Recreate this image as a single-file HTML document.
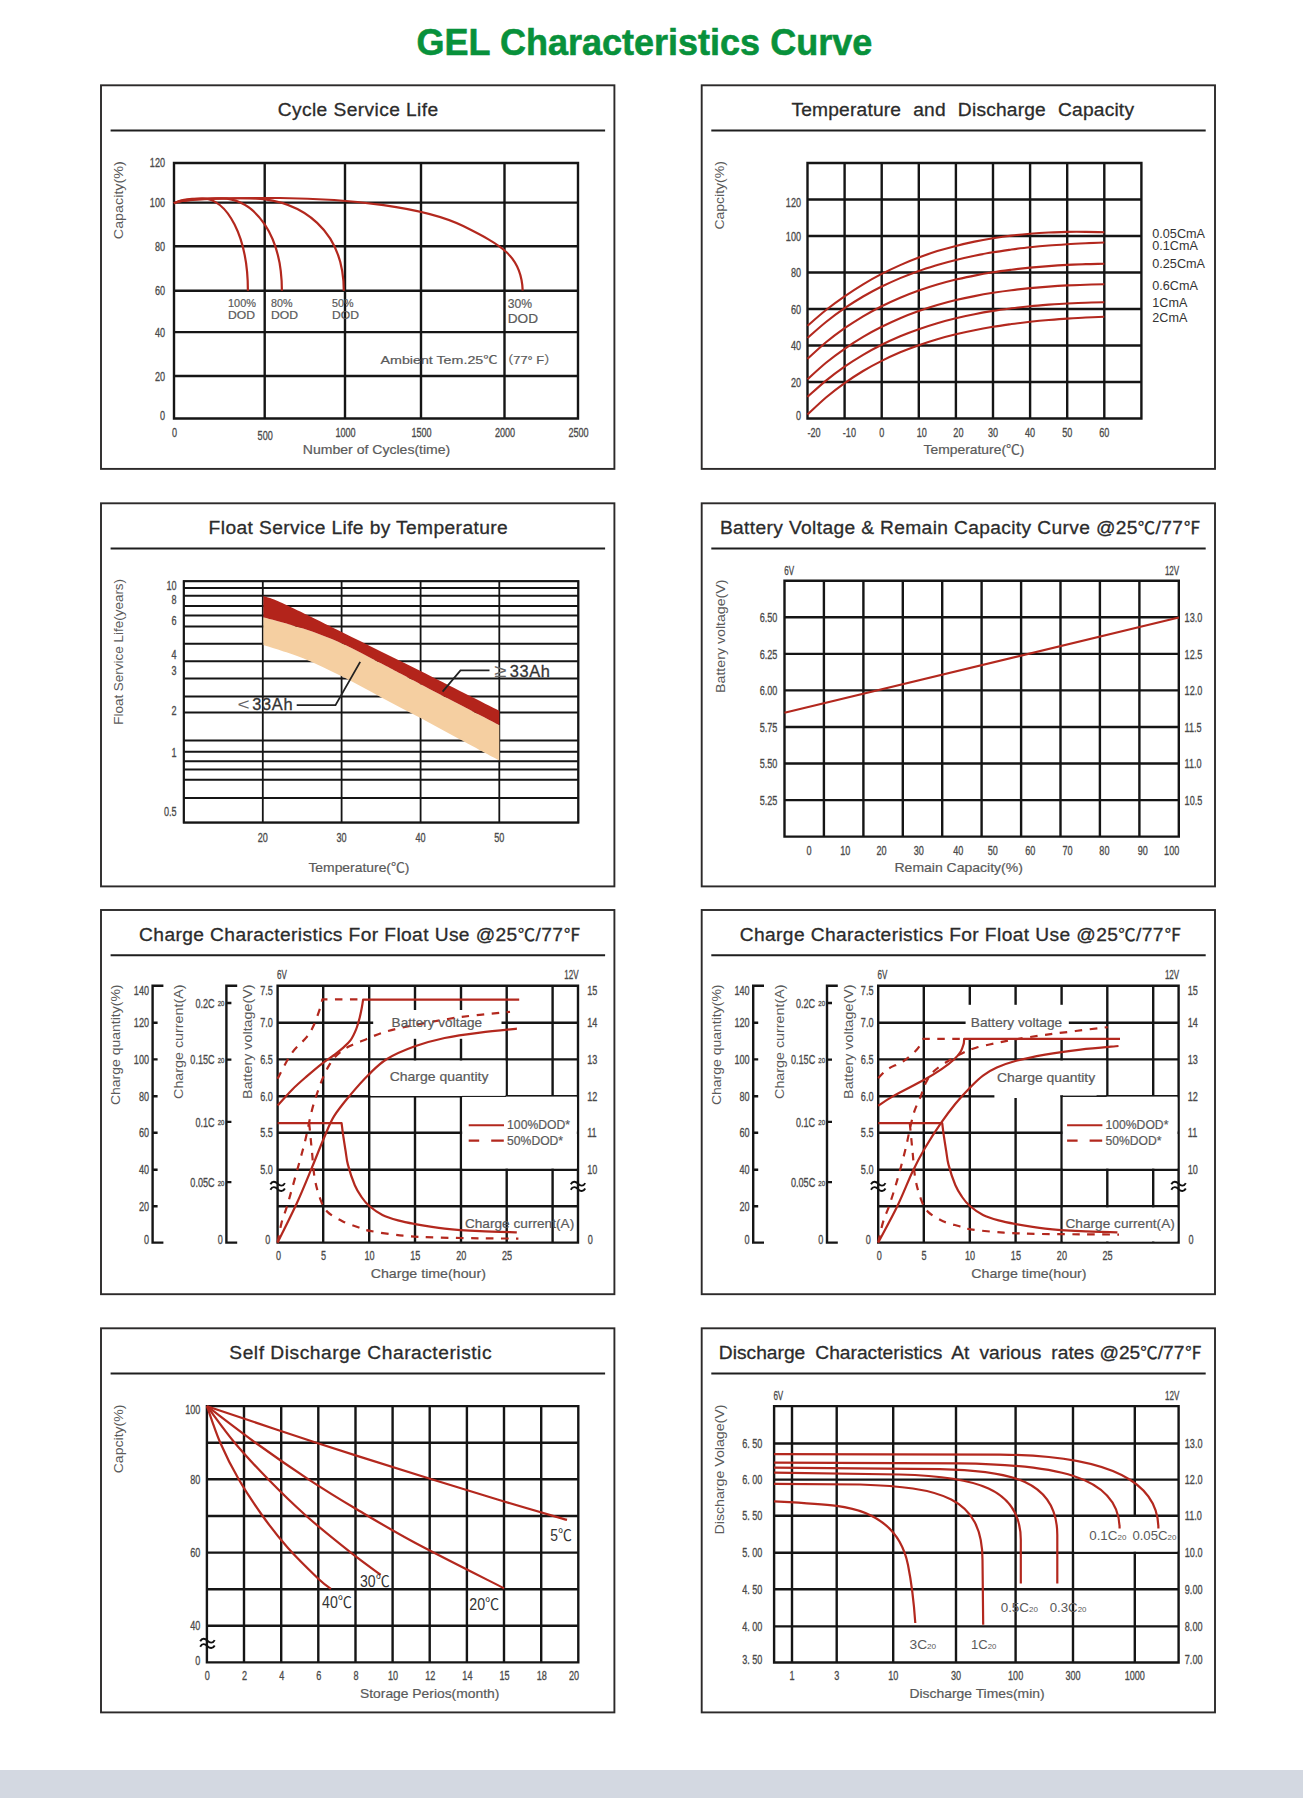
<!DOCTYPE html>
<html lang="en"><head><meta charset="utf-8"><title>GEL Characteristics Curve</title>
<style>
html,body{margin:0;padding:0;background:#fff}
body{width:1303px;height:1798px;overflow:hidden;font-family:"Liberation Sans","Noto Sans CJK SC",sans-serif}
svg{display:block;font-family:"Liberation Sans","Noto Sans CJK SC",sans-serif}
</style></head><body>
<svg width="1303" height="1798" viewBox="0 0 1303 1798">
<rect x="0" y="0" width="1303" height="1798" fill="#fff"/>
<rect x="0" y="1770" width="1303" height="28" fill="#d3d8e1"/>
<text x="416.6" y="55.3" font-size="37.6" font-weight="bold" fill="#08913b" stroke="#08913b" stroke-width="0.6" textLength="455.6" lengthAdjust="spacingAndGlyphs">GEL Characteristics Curve</text>
<rect x="101.0" y="85.3" width="513.4" height="383.6" fill="#fff" stroke="#2c2a2a" stroke-width="1.9"/>
<line x1="110.6" y1="130.6" x2="605.1" y2="130.6" stroke="#1e1e1e" stroke-width="2"/>
<rect x="701.7" y="85.3" width="513.3" height="383.6" fill="#fff" stroke="#2c2a2a" stroke-width="1.9"/>
<line x1="711.3000000000001" y1="130.6" x2="1205.7" y2="130.6" stroke="#1e1e1e" stroke-width="2"/>
<rect x="101.0" y="503.3" width="513.4" height="383.1" fill="#fff" stroke="#2c2a2a" stroke-width="1.9"/>
<line x1="110.6" y1="548.6" x2="605.1" y2="548.6" stroke="#1e1e1e" stroke-width="2"/>
<rect x="701.7" y="503.3" width="513.3" height="383.1" fill="#fff" stroke="#2c2a2a" stroke-width="1.9"/>
<line x1="711.3000000000001" y1="548.6" x2="1205.7" y2="548.6" stroke="#1e1e1e" stroke-width="2"/>
<rect x="101.0" y="910.0" width="513.4" height="384.2" fill="#fff" stroke="#2c2a2a" stroke-width="1.9"/>
<line x1="110.6" y1="955.3" x2="605.1" y2="955.3" stroke="#1e1e1e" stroke-width="2"/>
<rect x="701.7" y="910.0" width="513.3" height="384.2" fill="#fff" stroke="#2c2a2a" stroke-width="1.9"/>
<line x1="711.3000000000001" y1="955.3" x2="1205.7" y2="955.3" stroke="#1e1e1e" stroke-width="2"/>
<rect x="101.0" y="1328.3" width="513.4" height="384.1" fill="#fff" stroke="#2c2a2a" stroke-width="1.9"/>
<line x1="110.6" y1="1373.6" x2="605.1" y2="1373.6" stroke="#1e1e1e" stroke-width="2"/>
<rect x="701.7" y="1328.3" width="513.3" height="384.1" fill="#fff" stroke="#2c2a2a" stroke-width="1.9"/>
<line x1="711.3000000000001" y1="1373.6" x2="1205.7" y2="1373.6" stroke="#1e1e1e" stroke-width="2"/>
<text x="277.7" y="115.8" font-size="19.2" fill="#2b2b2b" stroke="#2b2b2b" stroke-width="0.3" textLength="160.4" xml:space="preserve">Cycle Service Life</text>
<path d="M174.0,161.8V419.7M264.7,161.8V419.7M345.0,161.8V419.7M421.0,161.8V419.7M504.5,161.8V419.7M578.0,161.8V419.7M172.8,163.0H579.2M172.8,202.6H579.2M172.8,246.3H579.2M172.8,290.8H579.2M172.8,332.1H579.2M172.8,376.0H579.2M172.8,418.5H579.2" stroke="#151515" stroke-width="2.4" fill="none"/>
<text transform="translate(165.0,166.7) scale(0.7,1)" font-size="13.0" text-anchor="end" fill="#4a4a4a" stroke="#4a4a4a" stroke-width="0.28" vector-effect="non-scaling-stroke">120</text>
<text transform="translate(165.0,207.2) scale(0.7,1)" font-size="13.0" text-anchor="end" fill="#4a4a4a" stroke="#4a4a4a" stroke-width="0.28" vector-effect="non-scaling-stroke">100</text>
<text transform="translate(165.0,250.9) scale(0.7,1)" font-size="13.0" text-anchor="end" fill="#4a4a4a" stroke="#4a4a4a" stroke-width="0.28" vector-effect="non-scaling-stroke">80</text>
<text transform="translate(165.0,295.4) scale(0.7,1)" font-size="13.0" text-anchor="end" fill="#4a4a4a" stroke="#4a4a4a" stroke-width="0.28" vector-effect="non-scaling-stroke">60</text>
<text transform="translate(165.0,336.7) scale(0.7,1)" font-size="13.0" text-anchor="end" fill="#4a4a4a" stroke="#4a4a4a" stroke-width="0.28" vector-effect="non-scaling-stroke">40</text>
<text transform="translate(165.0,380.6) scale(0.7,1)" font-size="13.0" text-anchor="end" fill="#4a4a4a" stroke="#4a4a4a" stroke-width="0.28" vector-effect="non-scaling-stroke">20</text>
<text transform="translate(165.0,419.7) scale(0.7,1)" font-size="13.0" text-anchor="end" fill="#4a4a4a" stroke="#4a4a4a" stroke-width="0.28" vector-effect="non-scaling-stroke">0</text>
<text transform="translate(174.5,436.8) scale(0.7,1)" font-size="13.0" text-anchor="middle" fill="#4a4a4a" stroke="#4a4a4a" stroke-width="0.28" vector-effect="non-scaling-stroke">0</text>
<text transform="translate(265.2,440.3) scale(0.7,1)" font-size="13.0" text-anchor="middle" fill="#4a4a4a" stroke="#4a4a4a" stroke-width="0.28" vector-effect="non-scaling-stroke">500</text>
<text transform="translate(345.5,436.8) scale(0.7,1)" font-size="13.0" text-anchor="middle" fill="#4a4a4a" stroke="#4a4a4a" stroke-width="0.28" vector-effect="non-scaling-stroke">1000</text>
<text transform="translate(421.5,436.8) scale(0.7,1)" font-size="13.0" text-anchor="middle" fill="#4a4a4a" stroke="#4a4a4a" stroke-width="0.28" vector-effect="non-scaling-stroke">1500</text>
<text transform="translate(505.0,436.8) scale(0.7,1)" font-size="13.0" text-anchor="middle" fill="#4a4a4a" stroke="#4a4a4a" stroke-width="0.28" vector-effect="non-scaling-stroke">2000</text>
<text transform="translate(578.5,436.8) scale(0.7,1)" font-size="13.0" text-anchor="middle" fill="#4a4a4a" stroke="#4a4a4a" stroke-width="0.28" vector-effect="non-scaling-stroke">2500</text>
<text x="302.8" y="454.3" font-size="13.0" fill="#5a5a5a" stroke="#5a5a5a" stroke-width="0.2" textLength="147.5" lengthAdjust="spacingAndGlyphs">Number of Cycles(time)</text>
<text transform="translate(123.4,239.2) rotate(-90)" font-size="13.6" fill="#5a5a5a" textLength="78.0" lengthAdjust="spacingAndGlyphs">Capacity(%)</text>
<path d="M174,203.4C179,199.6 188,198.4 203,198.5C227,199.2 247.9,236 247.9,290.8" stroke="#b3281e" stroke-width="2.2" fill="none" stroke-linejoin="round"/>
<path d="M174,203.4C180,199.4 195,198.2 222,198.4C256,199.4 281.9,236 281.9,290.8" stroke="#b3281e" stroke-width="2.2" fill="none" stroke-linejoin="round"/>
<path d="M174,203.4C181,199.2 205,198.0 250,198.3C304,199.4 343.8,232 343.8,290.8" stroke="#b3281e" stroke-width="2.2" fill="none" stroke-linejoin="round"/>
<path d="M174,203.4C182,199.0 220,197.8 280,198.0C350,198.6 425,207 463.2,226.1S521.5,256 522.7,290.6" stroke="#b3281e" stroke-width="2.2" fill="none" stroke-linejoin="round"/>
<text x="228.0" y="306.7" font-size="10.8" fill="#5a5a5a" stroke="#5a5a5a" stroke-width="0.2" textLength="28.0" lengthAdjust="spacingAndGlyphs">100%</text>
<text x="228.0" y="319.3" font-size="10.8" fill="#5a5a5a" stroke="#5a5a5a" stroke-width="0.2" textLength="27.0" lengthAdjust="spacingAndGlyphs">DOD</text>
<text x="271.0" y="306.7" font-size="10.8" fill="#5a5a5a" stroke="#5a5a5a" stroke-width="0.2" textLength="21.5" lengthAdjust="spacingAndGlyphs">80%</text>
<text x="271.0" y="319.3" font-size="10.8" fill="#5a5a5a" stroke="#5a5a5a" stroke-width="0.2" textLength="27.0" lengthAdjust="spacingAndGlyphs">DOD</text>
<text x="332.0" y="306.7" font-size="10.8" fill="#5a5a5a" stroke="#5a5a5a" stroke-width="0.2" textLength="21.5" lengthAdjust="spacingAndGlyphs">50%</text>
<text x="332.0" y="319.3" font-size="10.8" fill="#5a5a5a" stroke="#5a5a5a" stroke-width="0.2" textLength="27.0" lengthAdjust="spacingAndGlyphs">DOD</text>
<text x="507.7" y="308.2" font-size="13" fill="#5a5a5a" stroke="#5a5a5a" stroke-width="0.2" textLength="24.3" lengthAdjust="spacingAndGlyphs">30%</text>
<text x="507.7" y="322.6" font-size="13" fill="#5a5a5a" stroke="#5a5a5a" stroke-width="0.2" textLength="30.3" lengthAdjust="spacingAndGlyphs">DOD</text>
<text x="380.5" y="363.9" font-size="11.4" fill="#5a5a5a" stroke="#5a5a5a" stroke-width="0.2" textLength="117.0" lengthAdjust="spacingAndGlyphs">Ambient Tem.25℃</text>
<text x="500.5" y="363.9" font-size="11.4" fill="#5a5a5a" stroke="#5a5a5a" stroke-width="0.2" textLength="56.5" lengthAdjust="spacingAndGlyphs">（77° F）</text>
<text x="791.4" y="115.8" font-size="19.2" fill="#2b2b2b" stroke="#2b2b2b" stroke-width="0.3" textLength="342.6" style="word-spacing:6.5px" xml:space="preserve">Temperature and Discharge Capacity</text>
<path d="M807.5,161.8V419.7M844.6,161.8V419.7M881.7,161.8V419.7M918.8,161.8V419.7M955.9,161.8V419.7M993.0,161.8V419.7M1030.1,161.8V419.7M1067.2,161.8V419.7M1104.3,161.8V419.7M1141.4,161.8V419.7M806.3,163.0H1142.6M806.3,199.5H1142.6M806.3,236.0H1142.6M806.3,272.5H1142.6M806.3,309.0H1142.6M806.3,345.5H1142.6M806.3,382.0H1142.6M806.3,418.5H1142.6" stroke="#151515" stroke-width="2.4" fill="none"/>
<text transform="translate(801.0,207.4) scale(0.7,1)" font-size="13.0" text-anchor="end" fill="#4a4a4a" stroke="#4a4a4a" stroke-width="0.28" vector-effect="non-scaling-stroke">120</text>
<text transform="translate(801.0,240.6) scale(0.7,1)" font-size="13.0" text-anchor="end" fill="#4a4a4a" stroke="#4a4a4a" stroke-width="0.28" vector-effect="non-scaling-stroke">100</text>
<text transform="translate(801.0,277.1) scale(0.7,1)" font-size="13.0" text-anchor="end" fill="#4a4a4a" stroke="#4a4a4a" stroke-width="0.28" vector-effect="non-scaling-stroke">80</text>
<text transform="translate(801.0,313.6) scale(0.7,1)" font-size="13.0" text-anchor="end" fill="#4a4a4a" stroke="#4a4a4a" stroke-width="0.28" vector-effect="non-scaling-stroke">60</text>
<text transform="translate(801.0,350.1) scale(0.7,1)" font-size="13.0" text-anchor="end" fill="#4a4a4a" stroke="#4a4a4a" stroke-width="0.28" vector-effect="non-scaling-stroke">40</text>
<text transform="translate(801.0,386.6) scale(0.7,1)" font-size="13.0" text-anchor="end" fill="#4a4a4a" stroke="#4a4a4a" stroke-width="0.28" vector-effect="non-scaling-stroke">20</text>
<text transform="translate(801.0,419.7) scale(0.7,1)" font-size="13.0" text-anchor="end" fill="#4a4a4a" stroke="#4a4a4a" stroke-width="0.28" vector-effect="non-scaling-stroke">0</text>
<text transform="translate(814.0,436.8) scale(0.7,1)" font-size="13.0" text-anchor="middle" fill="#4a4a4a" stroke="#4a4a4a" stroke-width="0.28" vector-effect="non-scaling-stroke">-20</text>
<text transform="translate(849.4,436.8) scale(0.7,1)" font-size="13.0" text-anchor="middle" fill="#4a4a4a" stroke="#4a4a4a" stroke-width="0.28" vector-effect="non-scaling-stroke">-10</text>
<text transform="translate(881.7,436.8) scale(0.7,1)" font-size="13.0" text-anchor="middle" fill="#4a4a4a" stroke="#4a4a4a" stroke-width="0.28" vector-effect="non-scaling-stroke">0</text>
<text transform="translate(921.8,436.8) scale(0.7,1)" font-size="13.0" text-anchor="middle" fill="#4a4a4a" stroke="#4a4a4a" stroke-width="0.28" vector-effect="non-scaling-stroke">10</text>
<text transform="translate(958.4,436.8) scale(0.7,1)" font-size="13.0" text-anchor="middle" fill="#4a4a4a" stroke="#4a4a4a" stroke-width="0.28" vector-effect="non-scaling-stroke">20</text>
<text transform="translate(993.0,436.8) scale(0.7,1)" font-size="13.0" text-anchor="middle" fill="#4a4a4a" stroke="#4a4a4a" stroke-width="0.28" vector-effect="non-scaling-stroke">30</text>
<text transform="translate(1030.1,436.8) scale(0.7,1)" font-size="13.0" text-anchor="middle" fill="#4a4a4a" stroke="#4a4a4a" stroke-width="0.28" vector-effect="non-scaling-stroke">40</text>
<text transform="translate(1067.2,436.8) scale(0.7,1)" font-size="13.0" text-anchor="middle" fill="#4a4a4a" stroke="#4a4a4a" stroke-width="0.28" vector-effect="non-scaling-stroke">50</text>
<text transform="translate(1104.3,436.8) scale(0.7,1)" font-size="13.0" text-anchor="middle" fill="#4a4a4a" stroke="#4a4a4a" stroke-width="0.28" vector-effect="non-scaling-stroke">60</text>
<text x="923.6" y="454.3" font-size="13.0" fill="#5a5a5a" stroke="#5a5a5a" stroke-width="0.2" textLength="100.9" lengthAdjust="spacingAndGlyphs">Temperature(℃)</text>
<text transform="translate(723.8,229.6) rotate(-90)" font-size="13.6" fill="#5a5a5a" textLength="68.4" lengthAdjust="spacingAndGlyphs">Capcity(%)</text>
<path d="M807.5,325.8C810.6,323.1 819.9,314.9 826.0,310.0C832.2,305.1 838.4,300.5 844.6,296.3C850.8,292.0 857.0,288.0 863.1,284.3C869.3,280.6 875.5,277.1 881.7,273.9C887.9,270.7 894.1,267.8 900.2,265.1C906.4,262.3 912.6,259.8 918.8,257.5C925.0,255.2 931.2,253.1 937.3,251.1C943.5,249.2 949.7,247.5 955.9,245.9C962.1,244.3 968.3,242.9 974.5,241.6C980.6,240.3 986.8,239.2 993.0,238.2C999.2,237.2 1005.4,236.3 1011.5,235.6C1017.7,234.9 1023.9,234.3 1030.1,233.7C1036.3,233.2 1042.5,232.8 1048.7,232.5C1054.8,232.2 1061.0,232.1 1067.2,231.9C1073.4,231.8 1079.6,231.8 1085.8,231.9C1091.9,231.9 1101.2,232.2 1104.3,232.3" stroke="#b3281e" stroke-width="2.1" fill="none"/>
<path d="M807.5,338.0C810.6,335.3 819.9,326.9 826.0,322.0C832.2,317.0 838.4,312.5 844.6,308.2C850.8,304.0 857.0,300.1 863.1,296.5C869.3,292.9 875.5,289.6 881.7,286.5C887.9,283.5 894.1,280.7 900.2,278.1C906.4,275.5 912.6,273.1 918.8,270.9C925.0,268.7 931.2,266.8 937.3,264.9C943.5,263.1 949.7,261.4 955.9,259.9C962.1,258.4 968.3,257.0 974.5,255.7C980.6,254.5 986.8,253.3 993.0,252.3C999.2,251.3 1005.4,250.4 1011.5,249.5C1017.7,248.7 1023.9,247.9 1030.1,247.3C1036.3,246.6 1042.5,246.0 1048.7,245.5C1054.8,245.0 1061.0,244.6 1067.2,244.2C1073.4,243.8 1079.6,243.5 1085.8,243.2C1091.9,242.9 1101.2,242.6 1104.3,242.5" stroke="#b3281e" stroke-width="2.1" fill="none"/>
<path d="M807.5,358.9C810.6,356.1 819.9,347.4 826.0,342.3C832.2,337.2 838.4,332.6 844.6,328.2C850.8,323.9 857.0,320.0 863.1,316.3C869.3,312.6 875.5,309.3 881.7,306.2C887.9,303.1 894.1,300.3 900.2,297.7C906.4,295.1 912.6,292.7 918.8,290.5C925.0,288.4 931.2,286.4 937.3,284.6C943.5,282.8 949.7,281.1 955.9,279.6C962.1,278.2 968.3,276.8 974.5,275.6C980.6,274.4 986.8,273.3 993.0,272.3C999.2,271.3 1005.4,270.5 1011.5,269.7C1017.7,268.9 1023.9,268.2 1030.1,267.6C1036.3,267.0 1042.5,266.5 1048.7,266.1C1054.8,265.6 1061.0,265.2 1067.2,264.9C1073.4,264.6 1079.6,264.3 1085.8,264.1C1091.9,263.9 1101.2,263.8 1104.3,263.7" stroke="#b3281e" stroke-width="2.1" fill="none"/>
<path d="M807.5,379.3C810.6,376.5 819.9,367.9 826.0,362.8C832.2,357.7 838.4,353.1 844.6,348.8C850.8,344.5 857.0,340.5 863.1,336.9C869.3,333.2 875.5,329.9 881.7,326.8C887.9,323.7 894.1,320.8 900.2,318.2C906.4,315.6 912.6,313.3 918.8,311.1C925.0,308.9 931.2,306.9 937.3,305.1C943.5,303.3 949.7,301.6 955.9,300.1C962.1,298.6 968.3,297.3 974.5,296.1C980.6,294.9 986.8,293.8 993.0,292.8C999.2,291.8 1005.4,290.9 1011.5,290.2C1017.7,289.4 1023.9,288.7 1030.1,288.1C1036.3,287.5 1042.5,287.0 1048.7,286.6C1054.8,286.1 1061.0,285.7 1067.2,285.4C1073.4,285.1 1079.6,284.9 1085.8,284.7C1091.9,284.5 1101.2,284.3 1104.3,284.3" stroke="#b3281e" stroke-width="2.1" fill="none"/>
<path d="M807.5,396.9C810.6,394.2 819.9,385.6 826.0,380.6C832.2,375.5 838.4,370.9 844.6,366.6C850.8,362.3 857.0,358.4 863.1,354.8C869.3,351.2 875.5,347.9 881.7,344.8C887.9,341.7 894.1,338.9 900.2,336.3C906.4,333.7 912.6,331.3 918.8,329.2C925.0,327.0 931.2,325.0 937.3,323.2C943.5,321.4 949.7,319.8 955.9,318.3C962.1,316.8 968.3,315.4 974.5,314.2C980.6,313.0 986.8,311.9 993.0,310.9C999.2,309.9 1005.4,309.1 1011.5,308.3C1017.7,307.5 1023.9,306.8 1030.1,306.2C1036.3,305.6 1042.5,305.1 1048.7,304.6C1054.8,304.2 1061.0,303.8 1067.2,303.5C1073.4,303.2 1079.6,302.9 1085.8,302.7C1091.9,302.5 1101.2,302.3 1104.3,302.3" stroke="#b3281e" stroke-width="2.1" fill="none"/>
<path d="M807.5,414.5C810.6,411.7 819.9,402.7 826.0,397.5C832.2,392.3 838.4,387.5 844.6,383.1C850.8,378.7 857.0,374.7 863.1,371.0C869.3,367.3 875.5,364.0 881.7,360.9C887.9,357.7 894.1,354.9 900.2,352.3C906.4,349.7 912.6,347.4 918.8,345.2C925.0,343.0 931.2,341.0 937.3,339.2C943.5,337.4 949.7,335.8 955.9,334.3C962.1,332.7 968.3,331.4 974.5,330.2C980.6,328.9 986.8,327.8 993.0,326.8C999.2,325.8 1005.4,324.9 1011.5,324.0C1017.7,323.2 1023.9,322.5 1030.1,321.8C1036.3,321.1 1042.5,320.5 1048.7,320.0C1054.8,319.5 1061.0,319.0 1067.2,318.6C1073.4,318.2 1079.6,317.8 1085.8,317.5C1091.9,317.2 1101.2,316.8 1104.3,316.7" stroke="#b3281e" stroke-width="2.1" fill="none"/>
<text x="1152.3" y="237.5" font-size="12.6" fill="#333" textLength="52.7" lengthAdjust="spacingAndGlyphs">0.05CmA</text>
<text x="1152.3" y="249.7" font-size="12.6" fill="#333" textLength="45.5" lengthAdjust="spacingAndGlyphs">0.1CmA</text>
<text x="1152.3" y="268" font-size="12.6" fill="#333" textLength="52.7" lengthAdjust="spacingAndGlyphs">0.25CmA</text>
<text x="1152.3" y="290" font-size="12.6" fill="#333" textLength="45.5" lengthAdjust="spacingAndGlyphs">0.6CmA</text>
<text x="1152.3" y="306.5" font-size="12.6" fill="#333" textLength="35" lengthAdjust="spacingAndGlyphs">1CmA</text>
<text x="1152.3" y="322" font-size="12.6" fill="#333" textLength="35" lengthAdjust="spacingAndGlyphs">2CmA</text>
<text x="208.6" y="533.5" font-size="19.2" fill="#2b2b2b" stroke="#2b2b2b" stroke-width="0.3" textLength="299.1" xml:space="preserve">Float Service Life by Temperature</text>
<path d="M183.8,580.3V823.5M262.8,580.3V823.5M341.6,580.3V823.5M420.6,580.3V823.5M499.3,580.3V823.5M578.3,580.3V823.5M182.9,581.2H579.2M182.9,822.6H579.2" stroke="#151515" stroke-width="1.8" fill="none"/>
<path d="M183.8,580.2V823.6M578.3,580.2V823.6M182.8,581.2H579.3M182.8,588.0H579.3M182.8,595.8H579.3M182.8,606.0H579.3M182.8,615.6H579.3M182.8,626.6H579.3M182.8,643.8H579.3M182.8,661.2H579.3M182.8,678.4H579.3M182.8,696.4H579.3M182.8,712.4H579.3M182.8,740.6H579.3M182.8,751.8H579.3M182.8,761.2H579.3M182.8,769.4H579.3M182.8,779.8H579.3M182.8,797.9H579.3M182.8,822.6H579.3" stroke="#151515" stroke-width="2.0" fill="none"/>
<text transform="translate(176.6,589.6) scale(0.7,1)" font-size="13.0" text-anchor="end" fill="#4a4a4a" stroke="#4a4a4a" stroke-width="0.28" vector-effect="non-scaling-stroke">10</text>
<text transform="translate(176.6,604.2) scale(0.7,1)" font-size="13.0" text-anchor="end" fill="#4a4a4a" stroke="#4a4a4a" stroke-width="0.28" vector-effect="non-scaling-stroke">8</text>
<text transform="translate(176.6,625.0) scale(0.7,1)" font-size="13.0" text-anchor="end" fill="#4a4a4a" stroke="#4a4a4a" stroke-width="0.28" vector-effect="non-scaling-stroke">6</text>
<text transform="translate(176.6,659.1) scale(0.7,1)" font-size="13.0" text-anchor="end" fill="#4a4a4a" stroke="#4a4a4a" stroke-width="0.28" vector-effect="non-scaling-stroke">4</text>
<text transform="translate(176.6,674.6) scale(0.7,1)" font-size="13.0" text-anchor="end" fill="#4a4a4a" stroke="#4a4a4a" stroke-width="0.28" vector-effect="non-scaling-stroke">3</text>
<text transform="translate(176.6,714.6) scale(0.7,1)" font-size="13.0" text-anchor="end" fill="#4a4a4a" stroke="#4a4a4a" stroke-width="0.28" vector-effect="non-scaling-stroke">2</text>
<text transform="translate(176.6,756.8) scale(0.7,1)" font-size="13.0" text-anchor="end" fill="#4a4a4a" stroke="#4a4a4a" stroke-width="0.28" vector-effect="non-scaling-stroke">1</text>
<text transform="translate(176.6,815.8) scale(0.7,1)" font-size="13.0" text-anchor="end" fill="#4a4a4a" stroke="#4a4a4a" stroke-width="0.28" vector-effect="non-scaling-stroke">0.5</text>
<text transform="translate(262.8,842.0) scale(0.7,1)" font-size="13.0" text-anchor="middle" fill="#4a4a4a" stroke="#4a4a4a" stroke-width="0.28" vector-effect="non-scaling-stroke">20</text>
<text transform="translate(341.6,842.0) scale(0.7,1)" font-size="13.0" text-anchor="middle" fill="#4a4a4a" stroke="#4a4a4a" stroke-width="0.28" vector-effect="non-scaling-stroke">30</text>
<text transform="translate(420.6,842.0) scale(0.7,1)" font-size="13.0" text-anchor="middle" fill="#4a4a4a" stroke="#4a4a4a" stroke-width="0.28" vector-effect="non-scaling-stroke">40</text>
<text transform="translate(499.3,842.0) scale(0.7,1)" font-size="13.0" text-anchor="middle" fill="#4a4a4a" stroke="#4a4a4a" stroke-width="0.28" vector-effect="non-scaling-stroke">50</text>
<text x="308.4" y="872.3" font-size="13.0" fill="#5a5a5a" stroke="#5a5a5a" stroke-width="0.2" textLength="101.1" lengthAdjust="spacingAndGlyphs">Temperature(℃)</text>
<text transform="translate(123.0,724.8) rotate(-90)" font-size="13.6" fill="#5a5a5a" textLength="145.9" lengthAdjust="spacingAndGlyphs">Float Service Life(years)</text>
<path d="M263.4,617.2C270.0,619.1 290.0,624.2 303.1,628.6C316.2,633.0 329.1,637.6 342.2,643.4C355.2,649.2 368.3,656.8 381.4,663.6C394.5,670.4 401.4,674.2 421.0,684.4C440.6,694.6 486.2,718.2 499.3,725.0L499.3,760.4C492.7,756.9 472.7,746.2 459.6,739.2C446.6,732.2 434.0,725.3 421.0,718.3C408.0,711.3 394.5,704.3 381.4,697.4C368.3,690.5 355.2,683.1 342.2,676.6C329.1,670.1 316.2,663.6 303.1,658.3C290.0,653.0 270.0,647.2 263.4,645.0Z" fill="#f5cfa1"/>
<path d="M263.4,596.0C266.5,597.2 269.1,597.0 282.2,603.0C295.3,609.0 319.1,620.8 342.2,632.2C365.3,643.6 394.8,658.2 421.0,671.3C447.2,684.4 486.2,704.2 499.3,710.8L499.3,725.0C486.2,718.2 440.6,694.6 421.0,684.4C401.4,674.2 394.5,670.4 381.4,663.6C368.3,656.8 355.2,649.2 342.2,643.4C329.1,637.6 316.2,633.0 303.1,628.6C290.0,624.2 270.0,619.1 263.4,617.2Z" fill="#b3241b"/>
<path d="M489.5,670.3H460.5L442.6,691.6" stroke="#222" stroke-width="1.8" fill="none"/>
<path d="M296.7,705.1H335.5L360.2,661.9" stroke="#222" stroke-width="1.8" fill="none"/>
<text transform="translate(494.5,676.6) scale(1.6,1.3)" font-size="14" fill="#666">≥</text>
<text x="509.8" y="676.6" font-size="16.4" fill="#333" stroke="#333" stroke-width="0.3" textLength="40">33Ah</text>
<text transform="translate(237.4,710.2) scale(1.3,1.05)" font-size="16" fill="#666">&lt;</text>
<text x="252.2" y="709.7" font-size="16.4" fill="#333" stroke="#333" stroke-width="0.3" textLength="40.4">33Ah</text>
<text x="719.9" y="533.5" font-size="19.2" fill="#2b2b2b" stroke="#2b2b2b" stroke-width="0.3" textLength="480.8" xml:space="preserve">Battery Voltage &amp; Remain Capacity Curve @25<tspan font-size="17.4">℃</tspan>/77<tspan font-size="17.4">℉</tspan></text>
<path d="M784.5,579.6V837.8M823.9,579.6V837.8M863.4,579.6V837.8M902.8,579.6V837.8M942.2,579.6V837.8M981.6,579.6V837.8M1021.1,579.6V837.8M1060.5,579.6V837.8M1099.9,579.6V837.8M1139.4,579.6V837.8M1178.8,579.6V837.8M783.3,580.8H1180.0M783.3,617.3H1180.0M783.3,653.9H1180.0M783.3,690.4H1180.0M783.3,727.0H1180.0M783.3,763.5H1180.0M783.3,800.1H1180.0M783.3,836.6H1180.0" stroke="#151515" stroke-width="2.4" fill="none"/>
<text transform="translate(777.4,621.9) scale(0.7,1)" font-size="13.0" text-anchor="end" fill="#4a4a4a" stroke="#4a4a4a" stroke-width="0.28" vector-effect="non-scaling-stroke">6.50</text>
<text transform="translate(777.4,658.5) scale(0.7,1)" font-size="13.0" text-anchor="end" fill="#4a4a4a" stroke="#4a4a4a" stroke-width="0.28" vector-effect="non-scaling-stroke">6.25</text>
<text transform="translate(777.4,695.0) scale(0.7,1)" font-size="13.0" text-anchor="end" fill="#4a4a4a" stroke="#4a4a4a" stroke-width="0.28" vector-effect="non-scaling-stroke">6.00</text>
<text transform="translate(777.4,731.6) scale(0.7,1)" font-size="13.0" text-anchor="end" fill="#4a4a4a" stroke="#4a4a4a" stroke-width="0.28" vector-effect="non-scaling-stroke">5.75</text>
<text transform="translate(777.4,768.1) scale(0.7,1)" font-size="13.0" text-anchor="end" fill="#4a4a4a" stroke="#4a4a4a" stroke-width="0.28" vector-effect="non-scaling-stroke">5.50</text>
<text transform="translate(777.4,804.7) scale(0.7,1)" font-size="13.0" text-anchor="end" fill="#4a4a4a" stroke="#4a4a4a" stroke-width="0.28" vector-effect="non-scaling-stroke">5.25</text>
<text transform="translate(1184.6,621.9) scale(0.7,1)" font-size="13.0" text-anchor="start" fill="#4a4a4a" stroke="#4a4a4a" stroke-width="0.28" vector-effect="non-scaling-stroke">13.0</text>
<text transform="translate(1184.6,658.5) scale(0.7,1)" font-size="13.0" text-anchor="start" fill="#4a4a4a" stroke="#4a4a4a" stroke-width="0.28" vector-effect="non-scaling-stroke">12.5</text>
<text transform="translate(1184.6,695.0) scale(0.7,1)" font-size="13.0" text-anchor="start" fill="#4a4a4a" stroke="#4a4a4a" stroke-width="0.28" vector-effect="non-scaling-stroke">12.0</text>
<text transform="translate(1184.6,731.6) scale(0.7,1)" font-size="13.0" text-anchor="start" fill="#4a4a4a" stroke="#4a4a4a" stroke-width="0.28" vector-effect="non-scaling-stroke">11.5</text>
<text transform="translate(1184.6,768.1) scale(0.7,1)" font-size="13.0" text-anchor="start" fill="#4a4a4a" stroke="#4a4a4a" stroke-width="0.28" vector-effect="non-scaling-stroke">11.0</text>
<text transform="translate(1184.6,804.7) scale(0.7,1)" font-size="13.0" text-anchor="start" fill="#4a4a4a" stroke="#4a4a4a" stroke-width="0.28" vector-effect="non-scaling-stroke">10.5</text>
<text transform="translate(809.0,854.8) scale(0.7,1)" font-size="13.0" text-anchor="middle" fill="#4a4a4a" stroke="#4a4a4a" stroke-width="0.28" vector-effect="non-scaling-stroke">0</text>
<text transform="translate(845.2,854.8) scale(0.7,1)" font-size="13.0" text-anchor="middle" fill="#4a4a4a" stroke="#4a4a4a" stroke-width="0.28" vector-effect="non-scaling-stroke">10</text>
<text transform="translate(881.5,854.8) scale(0.7,1)" font-size="13.0" text-anchor="middle" fill="#4a4a4a" stroke="#4a4a4a" stroke-width="0.28" vector-effect="non-scaling-stroke">20</text>
<text transform="translate(918.8,854.8) scale(0.7,1)" font-size="13.0" text-anchor="middle" fill="#4a4a4a" stroke="#4a4a4a" stroke-width="0.28" vector-effect="non-scaling-stroke">30</text>
<text transform="translate(958.3,854.8) scale(0.7,1)" font-size="13.0" text-anchor="middle" fill="#4a4a4a" stroke="#4a4a4a" stroke-width="0.28" vector-effect="non-scaling-stroke">40</text>
<text transform="translate(992.7,854.8) scale(0.7,1)" font-size="13.0" text-anchor="middle" fill="#4a4a4a" stroke="#4a4a4a" stroke-width="0.28" vector-effect="non-scaling-stroke">50</text>
<text transform="translate(1030.3,854.8) scale(0.7,1)" font-size="13.0" text-anchor="middle" fill="#4a4a4a" stroke="#4a4a4a" stroke-width="0.28" vector-effect="non-scaling-stroke">60</text>
<text transform="translate(1067.5,854.8) scale(0.7,1)" font-size="13.0" text-anchor="middle" fill="#4a4a4a" stroke="#4a4a4a" stroke-width="0.28" vector-effect="non-scaling-stroke">70</text>
<text transform="translate(1104.4,854.8) scale(0.7,1)" font-size="13.0" text-anchor="middle" fill="#4a4a4a" stroke="#4a4a4a" stroke-width="0.28" vector-effect="non-scaling-stroke">80</text>
<text transform="translate(1142.7,854.8) scale(0.7,1)" font-size="13.0" text-anchor="middle" fill="#4a4a4a" stroke="#4a4a4a" stroke-width="0.28" vector-effect="non-scaling-stroke">90</text>
<text transform="translate(1171.7,854.8) scale(0.7,1)" font-size="13.0" text-anchor="middle" fill="#4a4a4a" stroke="#4a4a4a" stroke-width="0.28" vector-effect="non-scaling-stroke">100</text>
<text transform="translate(784.2,575.0) scale(0.61,1)" font-size="13.2" text-anchor="start" fill="#4a4a4a" stroke="#4a4a4a" stroke-width="0.28" vector-effect="non-scaling-stroke">6V</text>
<text transform="translate(1179.2,575.2) scale(0.61,1)" font-size="13.2" text-anchor="end" fill="#4a4a4a" stroke="#4a4a4a" stroke-width="0.28" vector-effect="non-scaling-stroke">12V</text>
<text x="894.5" y="872.3" font-size="13.0" fill="#5a5a5a" stroke="#5a5a5a" stroke-width="0.2" textLength="128.3" lengthAdjust="spacingAndGlyphs">Remain Capacity(%)</text>
<text transform="translate(724.6,692.9) rotate(-90)" font-size="13.6" fill="#5a5a5a" textLength="113.4" lengthAdjust="spacingAndGlyphs">Battery voltage(V)</text>
<path d="M784.5,712.7L1178.8,617.5" stroke="#b3281e" stroke-width="2.2" fill="none" stroke-linejoin="round"/>
<text x="139.1" y="940.9" font-size="19.2" fill="#2b2b2b" stroke="#2b2b2b" stroke-width="0.3" textLength="441.6" xml:space="preserve">Charge Characteristics For Float Use @25<tspan font-size="17.4">℃</tspan>/77<tspan font-size="17.4">℉</tspan></text>
<path d="M277.6,984.6V1243.8M323.2,984.6V1243.8M369.2,984.6V1243.8M415.0,984.6V1243.8M461.0,984.6V1243.8M506.7,984.6V1243.8M552.6,984.6V1243.8M578.0,984.6V1243.8M276.4,985.8H579.2M276.4,1022.8H579.2M276.4,1059.4H579.2M276.4,1096.3H579.2M276.4,1132.7H579.2M276.4,1169.7H579.2M276.4,1206.3H579.2M276.4,1242.6H579.2" stroke="#151515" stroke-width="2.4" fill="none"/>
<rect x="373.2" y="1010.0" width="128.3" height="28.8" fill="#fff"/>
<rect x="370.4" y="1060.6" width="135.1" height="35.4" fill="#fff"/>
<rect x="462.2" y="1096.6" width="114.6" height="71.9" fill="#fff"/>
<line x1="462.0" y1="1096.4" x2="506.0" y2="1096.4" stroke="#151515" stroke-width="1"/>
<path d="M163.4,985.8H152.6V1242.6H163.4M152.6,1022.8h5M152.6,1059.4h5M152.6,1096.3h5M152.6,1132.7h5M152.6,1169.7h5M152.6,1206.3h5" stroke="#151515" stroke-width="2.4" fill="none"/>
<path d="M237.2,985.8H226.4V1242.6H237.2M226.4,1003.0h5M226.4,1059.6h5M226.4,1121.9h5M226.4,1182.1h5" stroke="#151515" stroke-width="2.4" fill="none"/>
<text transform="translate(149.0,994.8) scale(0.7,1)" font-size="13.0" text-anchor="end" fill="#4a4a4a" stroke="#4a4a4a" stroke-width="0.28" vector-effect="non-scaling-stroke">140</text>
<text transform="translate(149.0,1027.4) scale(0.7,1)" font-size="13.0" text-anchor="end" fill="#4a4a4a" stroke="#4a4a4a" stroke-width="0.28" vector-effect="non-scaling-stroke">120</text>
<text transform="translate(149.0,1064.0) scale(0.7,1)" font-size="13.0" text-anchor="end" fill="#4a4a4a" stroke="#4a4a4a" stroke-width="0.28" vector-effect="non-scaling-stroke">100</text>
<text transform="translate(149.0,1100.9) scale(0.7,1)" font-size="13.0" text-anchor="end" fill="#4a4a4a" stroke="#4a4a4a" stroke-width="0.28" vector-effect="non-scaling-stroke">80</text>
<text transform="translate(149.0,1137.3) scale(0.7,1)" font-size="13.0" text-anchor="end" fill="#4a4a4a" stroke="#4a4a4a" stroke-width="0.28" vector-effect="non-scaling-stroke">60</text>
<text transform="translate(149.0,1174.3) scale(0.7,1)" font-size="13.0" text-anchor="end" fill="#4a4a4a" stroke="#4a4a4a" stroke-width="0.28" vector-effect="non-scaling-stroke">40</text>
<text transform="translate(149.0,1210.9) scale(0.7,1)" font-size="13.0" text-anchor="end" fill="#4a4a4a" stroke="#4a4a4a" stroke-width="0.28" vector-effect="non-scaling-stroke">20</text>
<text transform="translate(149.0,1244.2) scale(0.7,1)" font-size="13.0" text-anchor="end" fill="#4a4a4a" stroke="#4a4a4a" stroke-width="0.28" vector-effect="non-scaling-stroke">0</text>
<text transform="translate(214.6,1007.6) scale(0.7,1)" font-size="13.0" text-anchor="end" fill="#4a4a4a" stroke="#4a4a4a" stroke-width="0.28" vector-effect="non-scaling-stroke">0.2C</text>
<text transform="translate(224.4,1006.4) scale(0.8,1)" font-size="7.5" text-anchor="end" fill="#4a4a4a" stroke="#4a4a4a" stroke-width="0.28" vector-effect="non-scaling-stroke">20</text>
<text transform="translate(214.6,1064.2) scale(0.7,1)" font-size="13.0" text-anchor="end" fill="#4a4a4a" stroke="#4a4a4a" stroke-width="0.28" vector-effect="non-scaling-stroke">0.15C</text>
<text transform="translate(224.4,1063.0) scale(0.8,1)" font-size="7.5" text-anchor="end" fill="#4a4a4a" stroke="#4a4a4a" stroke-width="0.28" vector-effect="non-scaling-stroke">20</text>
<text transform="translate(214.6,1126.5) scale(0.7,1)" font-size="13.0" text-anchor="end" fill="#4a4a4a" stroke="#4a4a4a" stroke-width="0.28" vector-effect="non-scaling-stroke">0.1C</text>
<text transform="translate(224.4,1125.3) scale(0.8,1)" font-size="7.5" text-anchor="end" fill="#4a4a4a" stroke="#4a4a4a" stroke-width="0.28" vector-effect="non-scaling-stroke">20</text>
<text transform="translate(214.6,1186.7) scale(0.7,1)" font-size="13.0" text-anchor="end" fill="#4a4a4a" stroke="#4a4a4a" stroke-width="0.28" vector-effect="non-scaling-stroke">0.05C</text>
<text transform="translate(224.4,1185.5) scale(0.8,1)" font-size="7.5" text-anchor="end" fill="#4a4a4a" stroke="#4a4a4a" stroke-width="0.28" vector-effect="non-scaling-stroke">20</text>
<text transform="translate(222.8,1244.2) scale(0.7,1)" font-size="13.0" text-anchor="end" fill="#4a4a4a" stroke="#4a4a4a" stroke-width="0.28" vector-effect="non-scaling-stroke">0</text>
<text transform="translate(272.9,995.0) scale(0.7,1)" font-size="13.0" text-anchor="end" fill="#4a4a4a" stroke="#4a4a4a" stroke-width="0.28" vector-effect="non-scaling-stroke">7.5</text>
<text transform="translate(272.9,1027.4) scale(0.7,1)" font-size="13.0" text-anchor="end" fill="#4a4a4a" stroke="#4a4a4a" stroke-width="0.28" vector-effect="non-scaling-stroke">7.0</text>
<text transform="translate(272.9,1064.0) scale(0.7,1)" font-size="13.0" text-anchor="end" fill="#4a4a4a" stroke="#4a4a4a" stroke-width="0.28" vector-effect="non-scaling-stroke">6.5</text>
<text transform="translate(272.9,1100.9) scale(0.7,1)" font-size="13.0" text-anchor="end" fill="#4a4a4a" stroke="#4a4a4a" stroke-width="0.28" vector-effect="non-scaling-stroke">6.0</text>
<text transform="translate(272.9,1137.3) scale(0.7,1)" font-size="13.0" text-anchor="end" fill="#4a4a4a" stroke="#4a4a4a" stroke-width="0.28" vector-effect="non-scaling-stroke">5.5</text>
<text transform="translate(272.9,1174.3) scale(0.7,1)" font-size="13.0" text-anchor="end" fill="#4a4a4a" stroke="#4a4a4a" stroke-width="0.28" vector-effect="non-scaling-stroke">5.0</text>
<text transform="translate(270.2,1243.8) scale(0.7,1)" font-size="13.0" text-anchor="end" fill="#4a4a4a" stroke="#4a4a4a" stroke-width="0.28" vector-effect="non-scaling-stroke">0</text>
<text transform="translate(587.2,995.0) scale(0.7,1)" font-size="13.0" text-anchor="start" fill="#4a4a4a" stroke="#4a4a4a" stroke-width="0.28" vector-effect="non-scaling-stroke">15</text>
<text transform="translate(587.2,1027.4) scale(0.7,1)" font-size="13.0" text-anchor="start" fill="#4a4a4a" stroke="#4a4a4a" stroke-width="0.28" vector-effect="non-scaling-stroke">14</text>
<text transform="translate(587.2,1064.0) scale(0.7,1)" font-size="13.0" text-anchor="start" fill="#4a4a4a" stroke="#4a4a4a" stroke-width="0.28" vector-effect="non-scaling-stroke">13</text>
<text transform="translate(587.2,1100.9) scale(0.7,1)" font-size="13.0" text-anchor="start" fill="#4a4a4a" stroke="#4a4a4a" stroke-width="0.28" vector-effect="non-scaling-stroke">12</text>
<text transform="translate(587.2,1137.3) scale(0.7,1)" font-size="13.0" text-anchor="start" fill="#4a4a4a" stroke="#4a4a4a" stroke-width="0.28" vector-effect="non-scaling-stroke">11</text>
<text transform="translate(587.2,1174.3) scale(0.7,1)" font-size="13.0" text-anchor="start" fill="#4a4a4a" stroke="#4a4a4a" stroke-width="0.28" vector-effect="non-scaling-stroke">10</text>
<text transform="translate(587.8,1243.6) scale(0.7,1)" font-size="13.0" text-anchor="start" fill="#4a4a4a" stroke="#4a4a4a" stroke-width="0.28" vector-effect="non-scaling-stroke">0</text>
<text transform="translate(278.6,1260.3) scale(0.7,1)" font-size="13.0" text-anchor="middle" fill="#4a4a4a" stroke="#4a4a4a" stroke-width="0.28" vector-effect="non-scaling-stroke">0</text>
<text transform="translate(323.5,1260.3) scale(0.7,1)" font-size="13.0" text-anchor="middle" fill="#4a4a4a" stroke="#4a4a4a" stroke-width="0.28" vector-effect="non-scaling-stroke">5</text>
<text transform="translate(369.5,1260.3) scale(0.7,1)" font-size="13.0" text-anchor="middle" fill="#4a4a4a" stroke="#4a4a4a" stroke-width="0.28" vector-effect="non-scaling-stroke">10</text>
<text transform="translate(415.3,1260.3) scale(0.7,1)" font-size="13.0" text-anchor="middle" fill="#4a4a4a" stroke="#4a4a4a" stroke-width="0.28" vector-effect="non-scaling-stroke">15</text>
<text transform="translate(461.3,1260.3) scale(0.7,1)" font-size="13.0" text-anchor="middle" fill="#4a4a4a" stroke="#4a4a4a" stroke-width="0.28" vector-effect="non-scaling-stroke">20</text>
<text transform="translate(507.0,1260.3) scale(0.7,1)" font-size="13.0" text-anchor="middle" fill="#4a4a4a" stroke="#4a4a4a" stroke-width="0.28" vector-effect="non-scaling-stroke">25</text>
<text transform="translate(277.0,978.7) scale(0.61,1)" font-size="13.2" text-anchor="start" fill="#4a4a4a" stroke="#4a4a4a" stroke-width="0.28" vector-effect="non-scaling-stroke">6V</text>
<text transform="translate(578.6,978.7) scale(0.61,1)" font-size="13.2" text-anchor="end" fill="#4a4a4a" stroke="#4a4a4a" stroke-width="0.28" vector-effect="non-scaling-stroke">12V</text>
<text x="370.7" y="1277.9" font-size="13.0" fill="#5a5a5a" stroke="#5a5a5a" stroke-width="0.2" textLength="115.2" lengthAdjust="spacingAndGlyphs">Charge time(hour)</text>
<text transform="translate(120.4,1105.1) rotate(-90)" font-size="13.6" fill="#5a5a5a" textLength="120.6" lengthAdjust="spacingAndGlyphs">Charge quantity(%)</text>
<text transform="translate(183.2,1098.9) rotate(-90)" font-size="13.6" fill="#5a5a5a" textLength="114.4" lengthAdjust="spacingAndGlyphs">Charge current(A)</text>
<text transform="translate(252.4,1098.9) rotate(-90)" font-size="13.6" fill="#5a5a5a" textLength="114.4" lengthAdjust="spacingAndGlyphs">Battery voltage(V)</text>
<path d="M270.4,1184.3C272.4,1180.5 275.4,1181.5 277.6,1183.7S282.9,1186.9 284.9,1183.1" stroke="#111" stroke-width="1.9" fill="none"/>
<path d="M270.4,1189.7C272.4,1185.9 275.4,1186.9 277.6,1189.1S282.9,1192.3 284.9,1188.5" stroke="#111" stroke-width="1.9" fill="none"/>
<path d="M570.8,1184.3C572.8,1180.5 575.8,1181.5 578.0,1183.7S583.2,1186.9 585.2,1183.1" stroke="#111" stroke-width="1.9" fill="none"/>
<path d="M570.8,1189.7C572.8,1185.9 575.8,1186.9 578.0,1189.1S583.2,1192.3 585.2,1188.5" stroke="#111" stroke-width="1.9" fill="none"/>
<path d="M277.6,1123.2H341.6L341.6,1123.2C341.9,1125.3 342.5,1131.0 343.2,1135.6C343.9,1140.2 344.8,1146.2 345.6,1151.0C346.4,1155.8 346.4,1158.9 347.9,1164.6C349.4,1170.3 352.5,1179.9 354.8,1185.3C357.1,1190.7 359.1,1193.5 361.5,1197.0C363.9,1200.5 365.8,1203.0 369.3,1206.0C372.8,1209.0 377.6,1212.6 382.4,1215.0C387.2,1217.4 392.6,1218.9 398.0,1220.4C403.4,1221.9 407.1,1222.6 414.9,1224.0C422.7,1225.4 433.8,1227.4 444.6,1228.6C455.5,1229.8 468.0,1230.6 480.0,1231.2C492.0,1231.8 510.7,1232.2 516.8,1232.4" stroke="#b3281e" stroke-width="2.2" fill="none" stroke-linejoin="round"/>
<path d="M309.2,1123.2C309.3,1124.6 309.5,1126.6 310.0,1131.4C310.5,1136.2 311.2,1144.4 312.0,1152.2C312.8,1160.0 313.3,1170.6 314.7,1178.4C316.1,1186.2 318.2,1193.6 320.3,1199.1C322.4,1204.6 323.5,1207.9 327.2,1211.6C330.9,1215.3 337.1,1218.5 342.4,1221.2C347.7,1223.9 354.3,1225.9 358.9,1227.5C363.5,1229.1 362.6,1229.5 370.0,1230.9C377.4,1232.3 391.8,1234.6 403.1,1235.7C414.4,1236.8 424.9,1237.1 437.7,1237.5C450.5,1237.9 466.6,1238.1 480.0,1238.3C493.4,1238.5 512.0,1238.5 518.4,1238.6" stroke="#b3281e" stroke-width="2.2" fill="none" stroke-dasharray="7.5 7.5" stroke-linejoin="round"/>
<path d="M277.6,1242.6C280.8,1236.0 291.1,1215.8 296.8,1203.3C302.5,1190.8 307.4,1178.5 312.0,1167.4C316.6,1156.4 320.7,1145.5 324.4,1137.0C328.1,1128.5 329.7,1123.3 334.1,1116.2C338.5,1109.1 344.9,1101.5 350.6,1094.6C356.4,1087.7 362.6,1080.6 368.6,1074.7C374.6,1068.8 378.9,1063.9 386.6,1059.2C394.3,1054.5 405.2,1049.8 414.9,1046.3C424.6,1042.8 433.8,1040.3 444.6,1038.0C455.5,1035.7 467.9,1034.1 480.0,1032.6C492.1,1031.0 510.8,1029.3 516.9,1028.7" stroke="#b3281e" stroke-width="2.2" fill="none" stroke-linejoin="round"/>
<path d="M277.6,1242.6C278.3,1239.3 280.0,1228.7 281.6,1222.6C283.2,1216.5 285.3,1212.0 287.1,1206.0C288.9,1200.0 290.5,1194.1 292.6,1186.7C294.7,1179.3 297.4,1169.4 299.5,1161.8C301.6,1154.2 303.0,1149.7 305.1,1141.1C307.2,1132.5 309.5,1119.5 312.0,1110.0C314.5,1100.5 317.6,1091.6 320.3,1084.3C323.1,1077.0 325.8,1071.2 328.5,1066.4C331.2,1061.6 333.3,1058.7 336.8,1055.3C340.3,1051.9 344.5,1048.9 349.3,1046.3C354.1,1043.7 359.8,1041.8 365.8,1039.4C371.8,1037.0 377.0,1034.2 385.2,1031.8C393.4,1029.4 402.3,1027.5 414.9,1025.0C427.5,1022.5 445.1,1019.2 461.0,1017.0C476.9,1014.8 501.8,1012.7 510.0,1011.8" stroke="#b3281e" stroke-width="2.2" fill="none" stroke-dasharray="7.5 7.5" stroke-linejoin="round"/>
<path d="M277.6,1105.6C280.1,1102.9 287.8,1094.0 292.6,1089.2C297.4,1084.4 301.3,1081.1 306.4,1076.7C311.5,1072.3 318.4,1066.5 323.0,1062.9C327.6,1059.3 330.9,1057.4 334.1,1055.0C337.3,1052.6 339.6,1050.9 342.4,1048.4C345.1,1045.9 348.3,1043.3 350.6,1040.1C352.9,1036.9 354.7,1032.8 356.2,1029.1C357.7,1025.4 358.7,1021.5 359.6,1018.0C360.5,1014.5 361.1,1011.4 361.7,1008.3C362.3,1005.2 362.9,1001.0 363.1,999.6H519.2" stroke="#b3281e" stroke-width="2.2" fill="none" stroke-linejoin="round"/>
<path d="M277.6,1078.8C279.9,1074.7 286.4,1060.8 291.2,1053.9C296.0,1047.0 302.7,1042.0 306.4,1037.4C310.1,1032.8 311.1,1030.9 313.3,1026.3C315.5,1021.7 318.1,1014.2 319.6,1009.7C321.1,1005.2 321.9,1001.1 322.3,999.4H363" stroke="#b3281e" stroke-width="2.2" fill="none" stroke-dasharray="7.5 7.5" stroke-linejoin="round"/>
<text x="391.6" y="1026.5" font-size="12.6" fill="#5a5a5a" stroke="#5a5a5a" stroke-width="0.2" textLength="90.5" lengthAdjust="spacingAndGlyphs">Battery voltage</text>
<text x="389.7" y="1081.3" font-size="12.6" fill="#5a5a5a" stroke="#5a5a5a" stroke-width="0.2" textLength="98.7" lengthAdjust="spacingAndGlyphs">Charge quantity</text>
<text x="464.9" y="1227.6" font-size="12.6" fill="#5a5a5a" stroke="#5a5a5a" stroke-width="0.2" textLength="109.3" lengthAdjust="spacingAndGlyphs">Charge current(A)</text>
<path d="M468.7,1125.3H504.0" stroke="#b3281e" stroke-width="2"/>
<path d="M468.7,1140.7h10.5m12,0h12.6" stroke="#b3281e" stroke-width="2.2"/>
<text x="507.1" y="1129.2" font-size="12" fill="#5a5a5a" stroke="#5a5a5a" stroke-width="0.2" textLength="62.9" lengthAdjust="spacingAndGlyphs">100%DOD*</text>
<text x="507.1" y="1144.5" font-size="12" fill="#5a5a5a" stroke="#5a5a5a" stroke-width="0.2" textLength="56.0" lengthAdjust="spacingAndGlyphs">50%DOD*</text>
<text x="739.7" y="940.9" font-size="19.2" fill="#2b2b2b" stroke="#2b2b2b" stroke-width="0.3" textLength="441.6" xml:space="preserve">Charge Characteristics For Float Use @25<tspan font-size="17.4">℃</tspan>/77<tspan font-size="17.4">℉</tspan></text>
<path d="M878.2,984.6V1243.8M923.8,984.6V1243.8M969.8,984.6V1243.8M1015.6,984.6V1243.8M1061.6,984.6V1243.8M1107.3,984.6V1243.8M1153.2,984.6V1243.8M1178.6,984.6V1243.8M877.0,985.8H1179.8M877.0,1022.8H1179.8M877.0,1059.4H1179.8M877.0,1096.3H1179.8M877.0,1132.7H1179.8M877.0,1169.7H1179.8M877.0,1206.3H1179.8M877.0,1242.6H1179.8" stroke="#151515" stroke-width="2.4" fill="none"/>
<rect x="965.6" y="1004.8" width="103.2" height="33.6" fill="#fff"/>
<rect x="971.0" y="1060.6" width="135.1" height="34.6" fill="#fff"/>
<rect x="994.4" y="1094.8" width="65.8" height="3.2" fill="#fff"/>
<rect x="1063.0" y="1094.8" width="33.6" height="0.8" fill="#fff"/>
<rect x="1062.8" y="1096.6" width="114.6" height="71.9" fill="#fff"/>
<rect x="1062.8" y="1207.5" width="114.6" height="33.9" fill="#fff"/>
<line x1="1062.6" y1="1096.4" x2="1106.6" y2="1096.4" stroke="#151515" stroke-width="1"/>
<path d="M764.0,985.8H753.2V1242.6H764.0M753.2,1022.8h5M753.2,1059.4h5M753.2,1096.3h5M753.2,1132.7h5M753.2,1169.7h5M753.2,1206.3h5" stroke="#151515" stroke-width="2.4" fill="none"/>
<path d="M837.8,985.8H827.0V1242.6H837.8M827.0,1003.0h5M827.0,1059.6h5M827.0,1121.9h5M827.0,1182.1h5" stroke="#151515" stroke-width="2.4" fill="none"/>
<text transform="translate(749.6,994.8) scale(0.7,1)" font-size="13.0" text-anchor="end" fill="#4a4a4a" stroke="#4a4a4a" stroke-width="0.28" vector-effect="non-scaling-stroke">140</text>
<text transform="translate(749.6,1027.4) scale(0.7,1)" font-size="13.0" text-anchor="end" fill="#4a4a4a" stroke="#4a4a4a" stroke-width="0.28" vector-effect="non-scaling-stroke">120</text>
<text transform="translate(749.6,1064.0) scale(0.7,1)" font-size="13.0" text-anchor="end" fill="#4a4a4a" stroke="#4a4a4a" stroke-width="0.28" vector-effect="non-scaling-stroke">100</text>
<text transform="translate(749.6,1100.9) scale(0.7,1)" font-size="13.0" text-anchor="end" fill="#4a4a4a" stroke="#4a4a4a" stroke-width="0.28" vector-effect="non-scaling-stroke">80</text>
<text transform="translate(749.6,1137.3) scale(0.7,1)" font-size="13.0" text-anchor="end" fill="#4a4a4a" stroke="#4a4a4a" stroke-width="0.28" vector-effect="non-scaling-stroke">60</text>
<text transform="translate(749.6,1174.3) scale(0.7,1)" font-size="13.0" text-anchor="end" fill="#4a4a4a" stroke="#4a4a4a" stroke-width="0.28" vector-effect="non-scaling-stroke">40</text>
<text transform="translate(749.6,1210.9) scale(0.7,1)" font-size="13.0" text-anchor="end" fill="#4a4a4a" stroke="#4a4a4a" stroke-width="0.28" vector-effect="non-scaling-stroke">20</text>
<text transform="translate(749.6,1244.2) scale(0.7,1)" font-size="13.0" text-anchor="end" fill="#4a4a4a" stroke="#4a4a4a" stroke-width="0.28" vector-effect="non-scaling-stroke">0</text>
<text transform="translate(815.2,1007.6) scale(0.7,1)" font-size="13.0" text-anchor="end" fill="#4a4a4a" stroke="#4a4a4a" stroke-width="0.28" vector-effect="non-scaling-stroke">0.2C</text>
<text transform="translate(825.0,1006.4) scale(0.8,1)" font-size="7.5" text-anchor="end" fill="#4a4a4a" stroke="#4a4a4a" stroke-width="0.28" vector-effect="non-scaling-stroke">20</text>
<text transform="translate(815.2,1064.2) scale(0.7,1)" font-size="13.0" text-anchor="end" fill="#4a4a4a" stroke="#4a4a4a" stroke-width="0.28" vector-effect="non-scaling-stroke">0.15C</text>
<text transform="translate(825.0,1063.0) scale(0.8,1)" font-size="7.5" text-anchor="end" fill="#4a4a4a" stroke="#4a4a4a" stroke-width="0.28" vector-effect="non-scaling-stroke">20</text>
<text transform="translate(815.2,1126.5) scale(0.7,1)" font-size="13.0" text-anchor="end" fill="#4a4a4a" stroke="#4a4a4a" stroke-width="0.28" vector-effect="non-scaling-stroke">0.1C</text>
<text transform="translate(825.0,1125.3) scale(0.8,1)" font-size="7.5" text-anchor="end" fill="#4a4a4a" stroke="#4a4a4a" stroke-width="0.28" vector-effect="non-scaling-stroke">20</text>
<text transform="translate(815.2,1186.7) scale(0.7,1)" font-size="13.0" text-anchor="end" fill="#4a4a4a" stroke="#4a4a4a" stroke-width="0.28" vector-effect="non-scaling-stroke">0.05C</text>
<text transform="translate(825.0,1185.5) scale(0.8,1)" font-size="7.5" text-anchor="end" fill="#4a4a4a" stroke="#4a4a4a" stroke-width="0.28" vector-effect="non-scaling-stroke">20</text>
<text transform="translate(823.4,1244.2) scale(0.7,1)" font-size="13.0" text-anchor="end" fill="#4a4a4a" stroke="#4a4a4a" stroke-width="0.28" vector-effect="non-scaling-stroke">0</text>
<text transform="translate(873.5,995.0) scale(0.7,1)" font-size="13.0" text-anchor="end" fill="#4a4a4a" stroke="#4a4a4a" stroke-width="0.28" vector-effect="non-scaling-stroke">7.5</text>
<text transform="translate(873.5,1027.4) scale(0.7,1)" font-size="13.0" text-anchor="end" fill="#4a4a4a" stroke="#4a4a4a" stroke-width="0.28" vector-effect="non-scaling-stroke">7.0</text>
<text transform="translate(873.5,1064.0) scale(0.7,1)" font-size="13.0" text-anchor="end" fill="#4a4a4a" stroke="#4a4a4a" stroke-width="0.28" vector-effect="non-scaling-stroke">6.5</text>
<text transform="translate(873.5,1100.9) scale(0.7,1)" font-size="13.0" text-anchor="end" fill="#4a4a4a" stroke="#4a4a4a" stroke-width="0.28" vector-effect="non-scaling-stroke">6.0</text>
<text transform="translate(873.5,1137.3) scale(0.7,1)" font-size="13.0" text-anchor="end" fill="#4a4a4a" stroke="#4a4a4a" stroke-width="0.28" vector-effect="non-scaling-stroke">5.5</text>
<text transform="translate(873.5,1174.3) scale(0.7,1)" font-size="13.0" text-anchor="end" fill="#4a4a4a" stroke="#4a4a4a" stroke-width="0.28" vector-effect="non-scaling-stroke">5.0</text>
<text transform="translate(870.8,1243.8) scale(0.7,1)" font-size="13.0" text-anchor="end" fill="#4a4a4a" stroke="#4a4a4a" stroke-width="0.28" vector-effect="non-scaling-stroke">0</text>
<text transform="translate(1187.8,995.0) scale(0.7,1)" font-size="13.0" text-anchor="start" fill="#4a4a4a" stroke="#4a4a4a" stroke-width="0.28" vector-effect="non-scaling-stroke">15</text>
<text transform="translate(1187.8,1027.4) scale(0.7,1)" font-size="13.0" text-anchor="start" fill="#4a4a4a" stroke="#4a4a4a" stroke-width="0.28" vector-effect="non-scaling-stroke">14</text>
<text transform="translate(1187.8,1064.0) scale(0.7,1)" font-size="13.0" text-anchor="start" fill="#4a4a4a" stroke="#4a4a4a" stroke-width="0.28" vector-effect="non-scaling-stroke">13</text>
<text transform="translate(1187.8,1100.9) scale(0.7,1)" font-size="13.0" text-anchor="start" fill="#4a4a4a" stroke="#4a4a4a" stroke-width="0.28" vector-effect="non-scaling-stroke">12</text>
<text transform="translate(1187.8,1137.3) scale(0.7,1)" font-size="13.0" text-anchor="start" fill="#4a4a4a" stroke="#4a4a4a" stroke-width="0.28" vector-effect="non-scaling-stroke">11</text>
<text transform="translate(1187.8,1174.3) scale(0.7,1)" font-size="13.0" text-anchor="start" fill="#4a4a4a" stroke="#4a4a4a" stroke-width="0.28" vector-effect="non-scaling-stroke">10</text>
<text transform="translate(1188.4,1243.6) scale(0.7,1)" font-size="13.0" text-anchor="start" fill="#4a4a4a" stroke="#4a4a4a" stroke-width="0.28" vector-effect="non-scaling-stroke">0</text>
<text transform="translate(879.2,1260.3) scale(0.7,1)" font-size="13.0" text-anchor="middle" fill="#4a4a4a" stroke="#4a4a4a" stroke-width="0.28" vector-effect="non-scaling-stroke">0</text>
<text transform="translate(924.1,1260.3) scale(0.7,1)" font-size="13.0" text-anchor="middle" fill="#4a4a4a" stroke="#4a4a4a" stroke-width="0.28" vector-effect="non-scaling-stroke">5</text>
<text transform="translate(970.1,1260.3) scale(0.7,1)" font-size="13.0" text-anchor="middle" fill="#4a4a4a" stroke="#4a4a4a" stroke-width="0.28" vector-effect="non-scaling-stroke">10</text>
<text transform="translate(1015.9,1260.3) scale(0.7,1)" font-size="13.0" text-anchor="middle" fill="#4a4a4a" stroke="#4a4a4a" stroke-width="0.28" vector-effect="non-scaling-stroke">15</text>
<text transform="translate(1061.9,1260.3) scale(0.7,1)" font-size="13.0" text-anchor="middle" fill="#4a4a4a" stroke="#4a4a4a" stroke-width="0.28" vector-effect="non-scaling-stroke">20</text>
<text transform="translate(1107.6,1260.3) scale(0.7,1)" font-size="13.0" text-anchor="middle" fill="#4a4a4a" stroke="#4a4a4a" stroke-width="0.28" vector-effect="non-scaling-stroke">25</text>
<text transform="translate(877.6,978.7) scale(0.61,1)" font-size="13.2" text-anchor="start" fill="#4a4a4a" stroke="#4a4a4a" stroke-width="0.28" vector-effect="non-scaling-stroke">6V</text>
<text transform="translate(1179.2,978.7) scale(0.61,1)" font-size="13.2" text-anchor="end" fill="#4a4a4a" stroke="#4a4a4a" stroke-width="0.28" vector-effect="non-scaling-stroke">12V</text>
<text x="971.3" y="1277.9" font-size="13.0" fill="#5a5a5a" stroke="#5a5a5a" stroke-width="0.2" textLength="115.2" lengthAdjust="spacingAndGlyphs">Charge time(hour)</text>
<text transform="translate(721.0,1105.1) rotate(-90)" font-size="13.6" fill="#5a5a5a" textLength="120.6" lengthAdjust="spacingAndGlyphs">Charge quantity(%)</text>
<text transform="translate(783.8,1098.9) rotate(-90)" font-size="13.6" fill="#5a5a5a" textLength="114.4" lengthAdjust="spacingAndGlyphs">Charge current(A)</text>
<text transform="translate(853.0,1098.9) rotate(-90)" font-size="13.6" fill="#5a5a5a" textLength="114.4" lengthAdjust="spacingAndGlyphs">Battery voltage(V)</text>
<path d="M871.0,1184.3C873.0,1180.5 876.0,1181.5 878.2,1183.7S883.5,1186.9 885.5,1183.1" stroke="#111" stroke-width="1.9" fill="none"/>
<path d="M871.0,1189.7C873.0,1185.9 876.0,1186.9 878.2,1189.1S883.5,1192.3 885.5,1188.5" stroke="#111" stroke-width="1.9" fill="none"/>
<path d="M1171.3,1184.3C1173.3,1180.5 1176.4,1181.5 1178.6,1183.7S1183.8,1186.9 1185.8,1183.1" stroke="#111" stroke-width="1.9" fill="none"/>
<path d="M1171.3,1189.7C1173.3,1185.9 1176.4,1186.9 1178.6,1189.1S1183.8,1192.3 1185.8,1188.5" stroke="#111" stroke-width="1.9" fill="none"/>
<path d="M878.2,1123.2H942.2L942.2,1123.2C942.5,1125.3 943.1,1131.0 943.8,1135.6C944.5,1140.2 945.4,1146.2 946.2,1151.0C947.0,1155.8 947.0,1158.9 948.5,1164.6C950.0,1170.3 953.1,1179.9 955.4,1185.3C957.7,1190.7 959.7,1193.5 962.1,1197.0C964.5,1200.5 966.4,1203.0 969.9,1206.0C973.4,1209.0 978.2,1212.6 983.0,1215.0C987.8,1217.4 993.2,1218.9 998.6,1220.4C1004.0,1221.9 1007.7,1222.6 1015.5,1224.0C1023.3,1225.4 1034.4,1227.4 1045.2,1228.6C1056.0,1229.8 1068.6,1230.6 1080.6,1231.2C1092.6,1231.8 1111.3,1232.2 1117.4,1232.4" stroke="#b3281e" stroke-width="2.2" fill="none" stroke-linejoin="round"/>
<path d="M909.8,1123.2C909.9,1124.6 910.1,1126.6 910.6,1131.4C911.1,1136.2 911.8,1144.4 912.6,1152.2C913.4,1160.0 913.9,1170.6 915.3,1178.4C916.7,1186.2 918.8,1193.6 920.9,1199.1C923.0,1204.6 924.1,1207.9 927.8,1211.6C931.5,1215.3 937.7,1218.8 943.0,1221.2C948.3,1223.7 954.9,1224.9 959.5,1226.3C964.1,1227.7 963.2,1228.2 970.6,1229.3C978.0,1230.4 992.4,1231.9 1003.7,1232.7C1015.0,1233.5 1025.5,1233.6 1038.3,1233.9C1051.1,1234.2 1067.1,1234.2 1080.6,1234.3C1094.0,1234.4 1112.6,1234.5 1119.0,1234.6" stroke="#b3281e" stroke-width="2.2" fill="none" stroke-dasharray="7.5 7.5" stroke-linejoin="round"/>
<path d="M878.2,1242.6C881.4,1236.5 891.7,1217.8 897.4,1206.0C903.1,1194.2 908.0,1181.2 912.6,1171.5C917.2,1161.8 920.3,1156.0 925.0,1148.0C929.7,1140.0 935.8,1130.6 940.9,1123.2C946.0,1115.8 950.5,1109.8 955.4,1103.8C960.4,1097.8 966.0,1091.7 970.6,1087.0C975.2,1082.3 978.6,1078.8 983.0,1075.6C987.4,1072.4 991.3,1070.1 996.8,1067.6C1002.3,1065.1 1008.1,1063.0 1016.2,1060.8C1024.3,1058.6 1034.5,1056.5 1045.2,1054.6C1055.9,1052.7 1068.4,1051.0 1080.6,1049.6C1092.8,1048.2 1112.2,1046.6 1118.5,1046.0" stroke="#b3281e" stroke-width="2.2" fill="none" stroke-linejoin="round"/>
<path d="M878.2,1242.6C879.0,1239.3 881.1,1228.7 882.9,1222.6C884.7,1216.5 887.0,1212.0 889.1,1206.0C891.2,1200.0 893.3,1193.1 895.3,1186.7C897.2,1180.3 898.9,1174.3 900.8,1167.4C902.6,1160.5 904.8,1152.2 906.4,1145.3C908.0,1138.4 909.1,1131.7 910.5,1125.9C911.9,1120.1 912.9,1115.7 914.6,1110.7C916.3,1105.7 918.9,1100.7 920.9,1095.8C922.9,1090.9 924.1,1085.8 926.4,1081.6C928.7,1077.4 931.0,1074.0 934.7,1070.5C938.4,1067.0 943.9,1063.7 948.5,1060.8C953.1,1057.9 957.7,1055.4 962.3,1053.2C966.9,1051.0 970.4,1049.4 976.1,1047.7C981.9,1046.0 989.9,1044.4 996.8,1042.9C1003.7,1041.5 1009.5,1040.3 1017.6,1039.0C1025.7,1037.7 1035.5,1036.1 1045.2,1034.8C1054.9,1033.5 1065.2,1032.3 1075.6,1031.0C1086.0,1029.7 1102.3,1027.8 1107.7,1027.1" stroke="#b3281e" stroke-width="2.2" fill="none" stroke-dasharray="7.5 7.5" stroke-linejoin="round"/>
<path d="M878.2,1105.7C880.7,1104.1 885.5,1100.5 893.2,1096.1C901.0,1091.7 916.6,1084.0 924.7,1079.5C932.8,1075.0 936.7,1072.4 941.6,1069.1C946.5,1065.8 950.8,1062.5 954.0,1059.5C957.2,1056.5 959.3,1053.9 960.9,1051.2C962.5,1048.5 963.3,1044.8 963.8,1043.5L964.2,1038.8H1120.0" stroke="#b3281e" stroke-width="2.2" fill="none" stroke-linejoin="round"/>
<path d="M878.2,1078.1C879.8,1076.6 883.6,1071.9 887.7,1069.1C891.8,1066.3 898.3,1064.5 902.9,1061.5C907.5,1058.5 912.3,1054.2 915.3,1051.2C918.3,1048.2 919.8,1045.6 921.1,1043.5C922.5,1041.4 923.0,1039.6 923.4,1038.8H963.6" stroke="#b3281e" stroke-width="2.2" fill="none" stroke-dasharray="7.5 7.5" stroke-linejoin="round"/>
<text x="970.8" y="1026.6" font-size="12.6" fill="#5a5a5a" stroke="#5a5a5a" stroke-width="0.2" textLength="91.4" lengthAdjust="spacingAndGlyphs">Battery voltage</text>
<text x="997.0" y="1081.5" font-size="12.6" fill="#5a5a5a" stroke="#5a5a5a" stroke-width="0.2" textLength="98.2" lengthAdjust="spacingAndGlyphs">Charge quantity</text>
<text x="1065.5" y="1227.6" font-size="12.6" fill="#5a5a5a" stroke="#5a5a5a" stroke-width="0.2" textLength="109.3" lengthAdjust="spacingAndGlyphs">Charge current(A)</text>
<path d="M1067.1,1125.3H1102.4" stroke="#b3281e" stroke-width="2"/>
<path d="M1067.1,1140.7h10.5m12,0h12.6" stroke="#b3281e" stroke-width="2.2"/>
<text x="1105.5" y="1129.2" font-size="12" fill="#5a5a5a" stroke="#5a5a5a" stroke-width="0.2" textLength="62.9" lengthAdjust="spacingAndGlyphs">100%DOD*</text>
<text x="1105.5" y="1144.5" font-size="12" fill="#5a5a5a" stroke="#5a5a5a" stroke-width="0.2" textLength="56.0" lengthAdjust="spacingAndGlyphs">50%DOD*</text>
<text x="229.3" y="1358.9" font-size="19.2" fill="#2b2b2b" stroke="#2b2b2b" stroke-width="0.3" textLength="262.2" xml:space="preserve">Self Discharge Characteristic</text>
<path d="M206.9,1404.9V1663.6M244.0,1404.9V1663.6M281.2,1404.9V1663.6M318.3,1404.9V1663.6M355.5,1404.9V1663.6M392.6,1404.9V1663.6M429.7,1404.9V1663.6M466.9,1404.9V1663.6M504.0,1404.9V1663.6M541.2,1404.9V1663.6M578.3,1404.9V1663.6M205.7,1406.1H579.5M205.7,1442.7H579.5M205.7,1479.3H579.5M205.7,1516.0H579.5M205.7,1552.6H579.5M205.7,1589.2H579.5M205.7,1625.8H579.5M205.7,1662.4H579.5" stroke="#151515" stroke-width="2.4" fill="none"/>
<text transform="translate(200.4,1414.3) scale(0.7,1)" font-size="13.0" text-anchor="end" fill="#4a4a4a" stroke="#4a4a4a" stroke-width="0.28" vector-effect="non-scaling-stroke">100</text>
<text transform="translate(200.4,1483.9) scale(0.7,1)" font-size="13.0" text-anchor="end" fill="#4a4a4a" stroke="#4a4a4a" stroke-width="0.28" vector-effect="non-scaling-stroke">80</text>
<text transform="translate(200.4,1557.2) scale(0.7,1)" font-size="13.0" text-anchor="end" fill="#4a4a4a" stroke="#4a4a4a" stroke-width="0.28" vector-effect="non-scaling-stroke">60</text>
<text transform="translate(200.4,1630.4) scale(0.7,1)" font-size="13.0" text-anchor="end" fill="#4a4a4a" stroke="#4a4a4a" stroke-width="0.28" vector-effect="non-scaling-stroke">40</text>
<text transform="translate(200.4,1664.5) scale(0.7,1)" font-size="13.0" text-anchor="end" fill="#4a4a4a" stroke="#4a4a4a" stroke-width="0.28" vector-effect="non-scaling-stroke">0</text>
<text transform="translate(207.4,1680.3) scale(0.7,1)" font-size="13.0" text-anchor="middle" fill="#4a4a4a" stroke="#4a4a4a" stroke-width="0.28" vector-effect="non-scaling-stroke">0</text>
<text transform="translate(244.5,1680.3) scale(0.7,1)" font-size="13.0" text-anchor="middle" fill="#4a4a4a" stroke="#4a4a4a" stroke-width="0.28" vector-effect="non-scaling-stroke">2</text>
<text transform="translate(281.7,1680.3) scale(0.7,1)" font-size="13.0" text-anchor="middle" fill="#4a4a4a" stroke="#4a4a4a" stroke-width="0.28" vector-effect="non-scaling-stroke">4</text>
<text transform="translate(318.8,1680.3) scale(0.7,1)" font-size="13.0" text-anchor="middle" fill="#4a4a4a" stroke="#4a4a4a" stroke-width="0.28" vector-effect="non-scaling-stroke">6</text>
<text transform="translate(356.0,1680.3) scale(0.7,1)" font-size="13.0" text-anchor="middle" fill="#4a4a4a" stroke="#4a4a4a" stroke-width="0.28" vector-effect="non-scaling-stroke">8</text>
<text transform="translate(393.1,1680.3) scale(0.7,1)" font-size="13.0" text-anchor="middle" fill="#4a4a4a" stroke="#4a4a4a" stroke-width="0.28" vector-effect="non-scaling-stroke">10</text>
<text transform="translate(430.2,1680.3) scale(0.7,1)" font-size="13.0" text-anchor="middle" fill="#4a4a4a" stroke="#4a4a4a" stroke-width="0.28" vector-effect="non-scaling-stroke">12</text>
<text transform="translate(467.4,1680.3) scale(0.7,1)" font-size="13.0" text-anchor="middle" fill="#4a4a4a" stroke="#4a4a4a" stroke-width="0.28" vector-effect="non-scaling-stroke">14</text>
<text transform="translate(504.5,1680.3) scale(0.7,1)" font-size="13.0" text-anchor="middle" fill="#4a4a4a" stroke="#4a4a4a" stroke-width="0.28" vector-effect="non-scaling-stroke">15</text>
<text transform="translate(541.7,1680.3) scale(0.7,1)" font-size="13.0" text-anchor="middle" fill="#4a4a4a" stroke="#4a4a4a" stroke-width="0.28" vector-effect="non-scaling-stroke">18</text>
<text transform="translate(574.0,1680.3) scale(0.7,1)" font-size="13.0" text-anchor="middle" fill="#4a4a4a" stroke="#4a4a4a" stroke-width="0.28" vector-effect="non-scaling-stroke">20</text>
<text x="360.0" y="1697.9" font-size="13.0" fill="#5a5a5a" stroke="#5a5a5a" stroke-width="0.2" textLength="139.3" lengthAdjust="spacingAndGlyphs">Storage Perios(month)</text>
<text transform="translate(123.4,1473.3) rotate(-90)" font-size="13.6" fill="#5a5a5a" textLength="68.8" lengthAdjust="spacingAndGlyphs">Capcity(%)</text>
<path d="M200.2,1641.3C202.2,1637.5 205.2,1638.5 207.4,1640.7S212.7,1643.9 214.7,1640.1" stroke="#111" stroke-width="1.9" fill="none"/>
<path d="M200.2,1646.7C202.2,1642.9 205.2,1643.9 207.4,1646.1S212.7,1649.3 214.7,1645.5" stroke="#111" stroke-width="1.9" fill="none"/>
<path d="M207.0,1406.2C225.3,1412.3 279.9,1430.9 317.1,1443.0C354.3,1455.1 398.8,1469.0 430.0,1478.7C461.2,1488.5 481.3,1494.6 504.1,1501.5C526.9,1508.4 556.5,1516.8 567.0,1519.9" stroke="#b3281e" stroke-width="2.2" fill="none"/>
<path d="M207.0,1406.2C215.2,1412.3 239.0,1430.8 255.9,1443.0C272.8,1455.2 291.9,1468.4 308.5,1479.3C325.1,1490.2 337.7,1498.0 355.4,1508.5C373.1,1519.0 389.7,1529.2 414.5,1542.5C439.3,1555.8 489.2,1580.7 504.1,1588.3" stroke="#b3281e" stroke-width="2.2" fill="none"/>
<path d="M207.0,1406.2C211.7,1412.3 224.7,1430.8 234.9,1443.0C245.1,1455.2 256.4,1467.2 268.2,1479.3C280.0,1491.4 292.0,1503.2 305.8,1515.5C319.6,1527.8 338.7,1543.0 351.2,1552.9C363.7,1562.8 375.8,1571.2 380.7,1574.8" stroke="#b3281e" stroke-width="2.2" fill="none"/>
<path d="M207.0,1406.2C209.2,1412.3 215.1,1430.8 220.4,1443.0C225.7,1455.2 231.7,1467.2 238.7,1479.3C245.7,1491.4 254.1,1504.0 262.3,1515.5C270.5,1527.0 278.6,1537.4 288.0,1548.0C297.4,1558.6 311.5,1572.2 318.6,1579.0C325.8,1585.8 328.8,1587.2 330.9,1588.8" stroke="#b3281e" stroke-width="2.2" fill="none"/>
<text x="550.2" y="1540.5" font-size="15.8" fill="#333" textLength="21.6" lengthAdjust="spacingAndGlyphs">5℃</text>
<text x="360.0" y="1587.3" font-size="15.8" fill="#333" textLength="29.7" lengthAdjust="spacingAndGlyphs">30℃</text>
<text x="322.0" y="1607.6" font-size="15.8" fill="#333" textLength="30.0" lengthAdjust="spacingAndGlyphs">40℃</text>
<text x="469.3" y="1610.2" font-size="15.8" fill="#333" textLength="30.0" lengthAdjust="spacingAndGlyphs">20℃</text>
<text x="718.8" y="1358.9" font-size="19.2" fill="#2b2b2b" stroke="#2b2b2b" stroke-width="0.3" textLength="483.0" xml:space="preserve">Discharge<tspan dx="4.6"> </tspan>Characteristics<tspan dx="4.6"> </tspan>At<tspan dx="4.6"> </tspan>various<tspan dx="4.6"> </tspan>rates @25<tspan font-size="17.4">℃</tspan>/77<tspan font-size="17.4">℉</tspan></text>
<path d="M774.1,1404.9V1663.7M792.0,1404.9V1663.7M836.7,1404.9V1663.7M893.2,1404.9V1663.7M956.0,1404.9V1663.7M1015.6,1404.9V1663.7M1073.0,1404.9V1663.7M1134.8,1404.9V1663.7M1178.6,1404.9V1663.7M772.9,1406.1H1179.8M772.9,1443.5H1179.8M772.9,1479.6H1179.8M772.9,1515.8H1179.8M772.9,1552.8H1179.8M772.9,1589.3H1179.8M772.9,1626.4H1179.8M772.9,1662.5H1179.8" stroke="#151515" stroke-width="2.4" fill="none"/>
<rect x="1074.2" y="1517.0" width="103.2" height="34.6" fill="#fff"/>
<text transform="translate(762.4,1448.1) scale(0.7,1)" font-size="13.0" text-anchor="end" fill="#4a4a4a" stroke="#4a4a4a" stroke-width="0.28" vector-effect="non-scaling-stroke">6. 50</text>
<text transform="translate(762.4,1484.2) scale(0.7,1)" font-size="13.0" text-anchor="end" fill="#4a4a4a" stroke="#4a4a4a" stroke-width="0.28" vector-effect="non-scaling-stroke">6. 00</text>
<text transform="translate(762.4,1520.4) scale(0.7,1)" font-size="13.0" text-anchor="end" fill="#4a4a4a" stroke="#4a4a4a" stroke-width="0.28" vector-effect="non-scaling-stroke">5. 50</text>
<text transform="translate(762.4,1557.4) scale(0.7,1)" font-size="13.0" text-anchor="end" fill="#4a4a4a" stroke="#4a4a4a" stroke-width="0.28" vector-effect="non-scaling-stroke">5. 00</text>
<text transform="translate(762.4,1593.9) scale(0.7,1)" font-size="13.0" text-anchor="end" fill="#4a4a4a" stroke="#4a4a4a" stroke-width="0.28" vector-effect="non-scaling-stroke">4. 50</text>
<text transform="translate(762.4,1631.0) scale(0.7,1)" font-size="13.0" text-anchor="end" fill="#4a4a4a" stroke="#4a4a4a" stroke-width="0.28" vector-effect="non-scaling-stroke">4. 00</text>
<text transform="translate(762.4,1663.9) scale(0.7,1)" font-size="13.0" text-anchor="end" fill="#4a4a4a" stroke="#4a4a4a" stroke-width="0.28" vector-effect="non-scaling-stroke">3. 50</text>
<text transform="translate(1184.8,1448.1) scale(0.7,1)" font-size="13.0" text-anchor="start" fill="#4a4a4a" stroke="#4a4a4a" stroke-width="0.28" vector-effect="non-scaling-stroke">13.0</text>
<text transform="translate(1184.8,1484.2) scale(0.7,1)" font-size="13.0" text-anchor="start" fill="#4a4a4a" stroke="#4a4a4a" stroke-width="0.28" vector-effect="non-scaling-stroke">12.0</text>
<text transform="translate(1184.8,1520.4) scale(0.7,1)" font-size="13.0" text-anchor="start" fill="#4a4a4a" stroke="#4a4a4a" stroke-width="0.28" vector-effect="non-scaling-stroke">11.0</text>
<text transform="translate(1184.8,1557.4) scale(0.7,1)" font-size="13.0" text-anchor="start" fill="#4a4a4a" stroke="#4a4a4a" stroke-width="0.28" vector-effect="non-scaling-stroke">10.0</text>
<text transform="translate(1184.8,1593.9) scale(0.7,1)" font-size="13.0" text-anchor="start" fill="#4a4a4a" stroke="#4a4a4a" stroke-width="0.28" vector-effect="non-scaling-stroke">9.00</text>
<text transform="translate(1184.8,1631.0) scale(0.7,1)" font-size="13.0" text-anchor="start" fill="#4a4a4a" stroke="#4a4a4a" stroke-width="0.28" vector-effect="non-scaling-stroke">8.00</text>
<text transform="translate(1184.8,1663.9) scale(0.7,1)" font-size="13.0" text-anchor="start" fill="#4a4a4a" stroke="#4a4a4a" stroke-width="0.28" vector-effect="non-scaling-stroke">7.00</text>
<text transform="translate(792.0,1680.4) scale(0.7,1)" font-size="13.0" text-anchor="middle" fill="#4a4a4a" stroke="#4a4a4a" stroke-width="0.28" vector-effect="non-scaling-stroke">1</text>
<text transform="translate(836.7,1680.4) scale(0.7,1)" font-size="13.0" text-anchor="middle" fill="#4a4a4a" stroke="#4a4a4a" stroke-width="0.28" vector-effect="non-scaling-stroke">3</text>
<text transform="translate(893.2,1680.4) scale(0.7,1)" font-size="13.0" text-anchor="middle" fill="#4a4a4a" stroke="#4a4a4a" stroke-width="0.28" vector-effect="non-scaling-stroke">10</text>
<text transform="translate(956.0,1680.4) scale(0.7,1)" font-size="13.0" text-anchor="middle" fill="#4a4a4a" stroke="#4a4a4a" stroke-width="0.28" vector-effect="non-scaling-stroke">30</text>
<text transform="translate(1015.6,1680.4) scale(0.7,1)" font-size="13.0" text-anchor="middle" fill="#4a4a4a" stroke="#4a4a4a" stroke-width="0.28" vector-effect="non-scaling-stroke">100</text>
<text transform="translate(1073.0,1680.4) scale(0.7,1)" font-size="13.0" text-anchor="middle" fill="#4a4a4a" stroke="#4a4a4a" stroke-width="0.28" vector-effect="non-scaling-stroke">300</text>
<text transform="translate(1134.8,1680.4) scale(0.7,1)" font-size="13.0" text-anchor="middle" fill="#4a4a4a" stroke="#4a4a4a" stroke-width="0.28" vector-effect="non-scaling-stroke">1000</text>
<text transform="translate(773.4,1399.8) scale(0.61,1)" font-size="13.2" text-anchor="start" fill="#4a4a4a" stroke="#4a4a4a" stroke-width="0.28" vector-effect="non-scaling-stroke">6V</text>
<text transform="translate(1179.4,1399.5) scale(0.61,1)" font-size="13.2" text-anchor="end" fill="#4a4a4a" stroke="#4a4a4a" stroke-width="0.28" vector-effect="non-scaling-stroke">12V</text>
<text x="909.5" y="1698.0" font-size="13.0" fill="#5a5a5a" stroke="#5a5a5a" stroke-width="0.2" textLength="135.1" lengthAdjust="spacingAndGlyphs">Discharge Times(min)</text>
<text transform="translate(724.0,1534.5) rotate(-90)" font-size="13.6" fill="#5a5a5a" textLength="130.0" lengthAdjust="spacingAndGlyphs">Discharge Volage(V)</text>
<path d="M774.1,1454.2L1000,1454.6C1080,1455.2 1158.4,1470 1158.4,1528.5" stroke="#b3281e" stroke-width="2.2" fill="none" stroke-linejoin="round"/>
<path d="M774.1,1462.6L960,1463.3C1050,1464.6 1119.6,1474 1119.6,1528.5" stroke="#b3281e" stroke-width="2.2" fill="none" stroke-linejoin="round"/>
<path d="M774.1,1467.7L940,1469.1C1010,1470.6 1057.3,1480 1057.3,1535V1583.5" stroke="#b3281e" stroke-width="2.2" fill="none" stroke-linejoin="round"/>
<path d="M774.1,1472.7L900,1474.5C975,1476.5 1020.8,1488 1020.8,1540V1583.5" stroke="#b3281e" stroke-width="2.2" fill="none" stroke-linejoin="round"/>
<path d="M774.1,1483.9L860,1484.5C940,1487 982.5,1497 982.5,1560L983.2,1624.7" stroke="#b3281e" stroke-width="2.2" fill="none" stroke-linejoin="round"/>
<path d="M774.1,1501.4C800,1502.8 820,1503.8 836.6,1505.8C870,1510 900,1525 908,1565C911,1580 914,1604 915.3,1623" stroke="#b3281e" stroke-width="2.2" fill="none" stroke-linejoin="round"/>
<text x="1089.2" y="1540.3" font-size="12.4" fill="#5a5a5a" textLength="37.2" lengthAdjust="spacingAndGlyphs">0.1C<tspan font-size="7.4">20</tspan></text>
<text x="1132.4" y="1540.3" font-size="12.4" fill="#5a5a5a" textLength="43.9" lengthAdjust="spacingAndGlyphs">0.05C<tspan font-size="7.4">20</tspan></text>
<text x="1000.7" y="1612.2" font-size="12.4" fill="#5a5a5a" textLength="37.2" lengthAdjust="spacingAndGlyphs">0.5C<tspan font-size="7.4">20</tspan></text>
<text x="1049.7" y="1612.2" font-size="12.4" fill="#5a5a5a" textLength="36.8" lengthAdjust="spacingAndGlyphs">0.3C<tspan font-size="7.4">20</tspan></text>
<text x="909.5" y="1649.0" font-size="12.4" fill="#5a5a5a" textLength="26.7" lengthAdjust="spacingAndGlyphs">3C<tspan font-size="7.4">20</tspan></text>
<text x="971.0" y="1649.0" font-size="12.4" fill="#5a5a5a" textLength="25.3" lengthAdjust="spacingAndGlyphs">1C<tspan font-size="7.4">20</tspan></text>
</svg>
</body></html>
